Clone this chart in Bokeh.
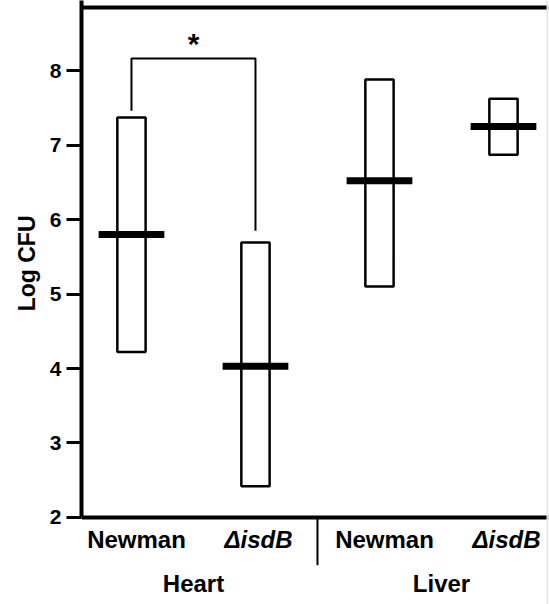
from bokeh.plotting import figure
from bokeh.models import Range1d, Span, FixedTicker, ColumnDataSource, Title
from bokeh.embed import file_html
from bokeh.resources import INLINE
from bokeh.core.properties import value

# ---- data ----
tissues = ["Heart", "Heart", "Liver", "Liver"]
strains = ["Newman", "ΔisdB", "Newman", "ΔisdB"]
box_low = [4.22, 2.42, 5.10, 6.87]
box_high = [7.37, 5.69, 7.88, 7.62]
medians = [5.80, 4.03, 6.52, 7.25]
y_ticks = [2, 3, 4, 5, 6, 7, 8]
groups = ["Heart", "Liver"]
y_title = "Log CFU"
sig_left_end = 7.46
sig_right_end = 5.85
sig_top = 8.16
sig_mark = "*"

FONT = value("Liberation Sans")
pos = [i + 1 for i in range(len(strains))]

y0, y1 = 0.832, 8.94
x0, x1 = 0.597, 4.363

p = figure(width=549, height=604, output_backend="svg", toolbar_location=None,
           x_range=Range1d(x0, x1), y_range=Range1d(y0, y1),
           x_axis_location=None, min_border_left=81, min_border_right=1,
           min_border_top=0, min_border_bottom=0)
p.outline_line_color = None
p.xgrid.visible = False
p.ygrid.visible = False

ax = p.yaxis[0]
ax.ticker = FixedTicker(ticks=y_ticks)
ax.bounds = (2, y1)
ax.axis_line_width = 4
ax.axis_line_color = "black"
ax.major_tick_line_width = 3
ax.major_tick_out = 15
ax.major_tick_in = 0
ax.minor_tick_line_color = None
ax.major_label_text_font = "Liberation Sans"
ax.major_label_text_font_style = "bold"
ax.major_label_text_font_size = "21px"
ax.major_label_text_color = "black"
ax.major_label_standoff = 5

# y-axis title, beside the axis (positioned along the 2-8 span as in the reference)
p.add_layout(Title(text=y_title, align="right", offset=215,
                   text_font="Liberation Sans", text_font_style="bold",
                   text_font_size="23px", text_color="black", standoff=13), "left")

# frame borders
p.add_layout(Span(location=8.846, dimension="width", line_color="black", line_width=4))
p.add_layout(Span(location=2, dimension="width", line_color="black", line_width=4))
p.add_layout(Span(location=x1 - 0.01, dimension="height", line_color="#e4e4e4", line_width=1.5))

src = ColumnDataSource(dict(x=pos, low=box_low, high=box_high, med=medians,
                            strain=strains, tissue=tissues))

p.vbar(x="x", width=0.228, bottom="low", top="high", source=src,
       fill_color="white", line_color="black", line_width=2.5)
p.rect(x="x", y="med", width=0.53, height=7, height_units="screen", source=src,
       fill_color="black", line_color=None)

# significance bracket between Heart Newman and Heart ΔisdB
a, b = pos[0], pos[1]
p.line(x=[a, a, b, b], y=[sig_left_end, sig_top, sig_top, sig_right_end],
       line_color="black", line_width=2)
p.text(x=[(a + b) / 2], y=[sig_top + 0.2], text=[sig_mark], text_font=FONT,
       text_font_size="30px", text_font_style="bold", text_align="center",
       text_baseline="middle", text_color="black")

# category labels
lab_y = 1.71
newman = [i for i, s in enumerate(strains) if s == "Newman"]
mutant = [i for i, s in enumerate(strains) if s != "Newman"]
p.text(x=[pos[i] for i in newman], y=[lab_y] * len(newman),
       text=[strains[i] for i in newman], x_offset=5, text_font=FONT,
       text_font_size="24px", text_font_style="bold", text_align="center",
       text_baseline="middle", text_color="black")
p.text(x=[pos[i] for i in mutant], y=[lab_y] * len(mutant),
       text=[strains[i] for i in mutant], x_offset=3, text_font=FONT,
       text_font_size="24px", text_font_style="bold italic", text_align="center",
       text_baseline="middle", text_color="black")

# group divider and group labels
split = (pos[1] + pos[2]) / 2
p.segment(x0=[split], y0=[2], x1=[split], y1=[1.36], line_color="black", line_width=2)
gx = [sum(pos[i] for i, t in enumerate(tissues) if t == g) / tissues.count(g) for g in groups]
p.text(x=gx, y=[1.115] * len(groups), text=groups, text_font=FONT,
       text_font_size="24px", text_font_style="bold", text_align="center",
       text_baseline="middle", text_color="black")

open("out.html", "w").write(file_html(p, INLINE))
